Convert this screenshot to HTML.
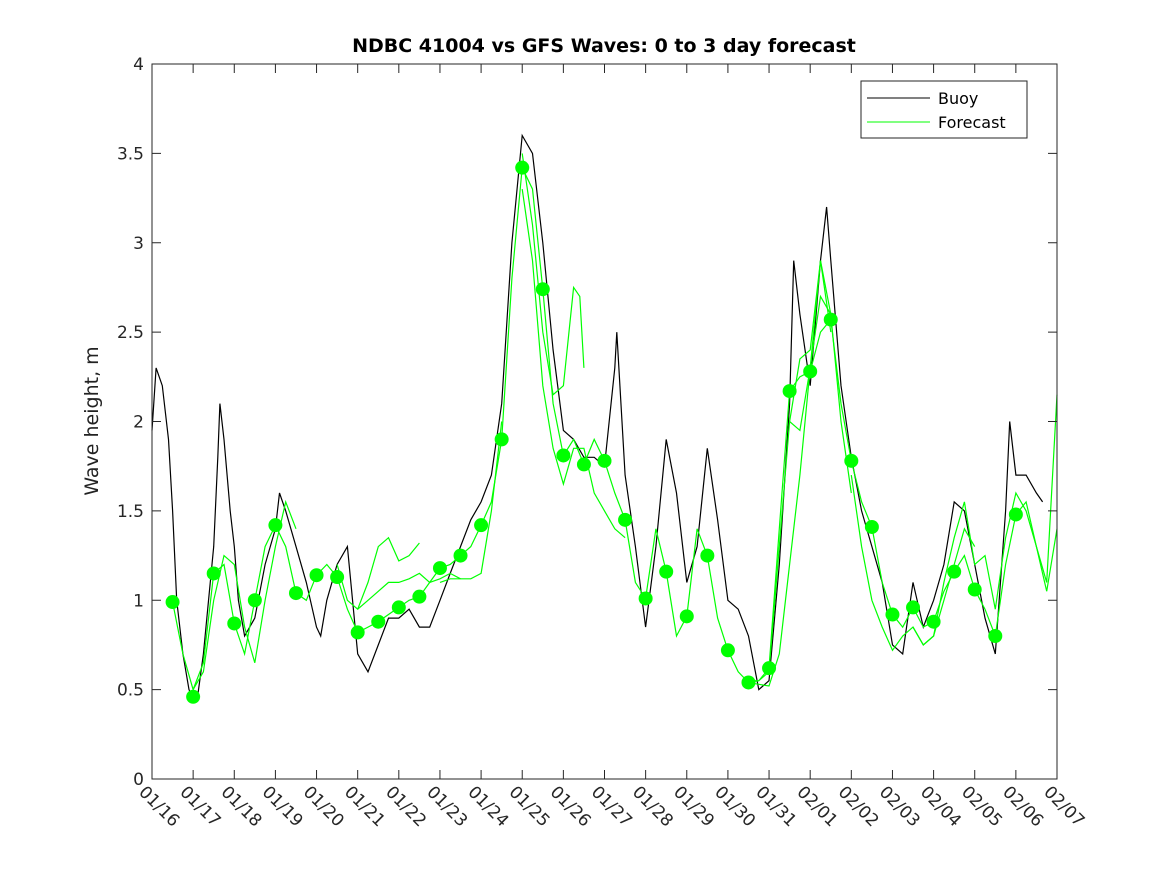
<!DOCTYPE html>
<html><head><meta charset="utf-8"><style>
body{margin:0;background:#fff;}
svg{display:block;font-family:"DejaVu Sans","Liberation Sans",sans-serif;}
</style></head><body>
<svg id="chart" width="1167" height="875" viewBox="0 0 1167 875">
<rect x="0" y="0" width="1167" height="875" fill="#fff"/>
<text x="604" y="52" text-anchor="middle" font-size="19" font-weight="bold" fill="#000">NDBC 41004 vs GFS Waves: 0 to 3 day forecast</text>
<text transform="translate(98,421) rotate(-90)" text-anchor="middle" font-size="19" fill="#222">Wave height, m</text>
<g id="series"></g>
<rect x="152" y="64" width="905" height="715" fill="none" stroke="#262626" stroke-width="1"/>
<g id="axes"></g>
<g>
<rect x="861" y="81" width="166" height="57" fill="#fff" stroke="#262626" stroke-width="1"/>
<line x1="867" y1="98" x2="930" y2="98" stroke="#000" stroke-width="1"/>
<text x="938" y="104" font-size="16" fill="#000">Buoy</text>
<line x1="867" y1="122" x2="930" y2="122" stroke="#00ff00" stroke-width="1"/>
<text x="938" y="128" font-size="16" fill="#000">Forecast</text>
</g>
</svg>
<script>
const xTickLabels=["01/16","01/17","01/18","01/19","01/20","01/21","01/22","01/23","01/24","01/25","01/26","01/27","01/28","01/29","01/30","01/31","02/01","02/02","02/03","02/04","02/05","02/06","02/07"];
const yTicks=[0,0.5,1,1.5,2,2.5,3,3.5,4];
const yTickLabels=["0","0.5","1","1.5","2","2.5","3","3.5","4"];
const buoyDays=[0,0.1,0.25,0.4,0.5,0.6,0.75,0.9,1.0,1.1,1.25,1.5,1.6,1.65,1.75,1.9,2.0,2.1,2.25,2.5,2.75,3.0,3.1,3.25,3.5,3.75,4.0,4.1,4.25,4.5,4.75,5.0,5.25,5.5,5.75,6.0,6.25,6.5,6.75,7.0,7.25,7.5,7.75,8.0,8.25,8.5,8.75,9.0,9.25,9.5,9.75,10.0,10.25,10.5,10.75,11.0,11.25,11.3,11.5,11.75,12.0,12.25,12.5,12.75,13.0,13.25,13.5,13.75,14.0,14.25,14.5,14.75,15.0,15.25,15.5,15.6,15.75,16.0,16.25,16.4,16.5,16.75,17.0,17.25,17.5,17.75,18.0,18.25,18.5,18.75,19.0,19.25,19.5,19.75,20.0,20.25,20.5,20.75,20.85,21.0,21.25,21.5,21.65];
const buoyValues=[1.95,2.3,2.2,1.9,1.5,1.0,0.7,0.5,0.45,0.45,0.7,1.3,1.8,2.1,1.9,1.5,1.3,1.0,0.8,0.9,1.2,1.4,1.6,1.5,1.3,1.1,0.85,0.8,1.0,1.2,1.3,0.7,0.6,0.75,0.9,0.9,0.95,0.85,0.85,1.0,1.15,1.3,1.45,1.55,1.7,2.1,3.0,3.6,3.5,3.0,2.4,1.95,1.9,1.8,1.8,1.75,2.3,2.5,1.7,1.3,0.85,1.3,1.9,1.6,1.1,1.3,1.85,1.45,1.0,0.95,0.8,0.5,0.55,1.2,2.1,2.9,2.6,2.2,2.9,3.2,2.9,2.2,1.8,1.5,1.3,1.1,0.75,0.7,1.1,0.85,1.0,1.2,1.55,1.5,1.2,0.9,0.7,1.5,2.0,1.7,1.7,1.6,1.55];
const dotDays=[0.5,1,1.5,2,2.5,3,3.5,4,4.5,5,5.5,6,6.5,7,7.5,8,8.5,9,9.5,10,10.5,11,11.5,12,12.5,13,13.5,14,14.5,15,15.5,16,16.5,17,17.5,18,18.5,19,19.5,20,20.5,21];
const dotValues=[0.99,0.46,1.15,0.87,1.00,1.42,1.04,1.14,1.13,0.82,0.88,0.96,1.02,1.18,1.25,1.42,1.90,3.42,2.74,1.81,1.76,1.78,1.45,1.01,1.16,0.91,1.25,0.72,0.54,0.62,2.17,2.28,2.57,1.78,1.41,0.92,0.96,0.88,1.16,1.06,0.80,1.48];
const fcMainDays=[0.5,0.75,1,1.25,1.5,1.75,2,2.25,2.5,2.75,3,3.25,3.5,3.75,4,4.25,4.5,4.75,5,5.25,5.5,5.75,6,6.25,6.5,6.75,7,7.25,7.5,7.75,8,8.25,8.5,8.75,9,9.25,9.5,9.75,10,10.25,10.5,10.75,11,11.25,11.5,11.75,12,12.25,12.5,12.75,13,13.25,13.5,13.75,14,14.25,14.5,14.75,15,15.25,15.5,15.75,16,16.25,16.5,16.75,17,17.25,17.5,17.75,18,18.25,18.5,18.75,19,19.25,19.5,19.75,20,20.25,20.5,20.75,21,21.25,21.5,21.75,22];
const fcMainValues=[0.99,0.7,0.5,0.65,1.15,1.2,0.87,0.7,1.0,1.3,1.42,1.3,1.04,1.0,1.14,1.2,1.13,0.95,0.82,0.85,0.88,0.92,0.96,1.0,1.02,1.1,1.18,1.2,1.25,1.3,1.42,1.55,1.9,2.8,3.42,3.3,2.74,2.1,1.81,1.9,1.76,1.9,1.78,1.6,1.45,1.1,1.01,1.4,1.16,0.8,0.91,1.4,1.25,0.9,0.72,0.6,0.54,0.55,0.62,1.4,2.17,2.25,2.28,2.5,2.57,2.1,1.78,1.55,1.41,1.1,0.92,0.85,0.96,0.85,0.88,1.05,1.16,1.25,1.06,0.95,0.8,1.2,1.48,1.55,1.3,1.1,2.15];
const runADays=[5,5.25,5.5,5.75,6,6.25,6.5];
const runAValues=[0.95,1.1,1.3,1.35,1.22,1.25,1.32];
const runBDays=[4.5,4.75,5,5.25,5.5,5.75,6,6.25,6.5,6.75,7,7.25,7.5];
const runBValues=[1.2,1.0,0.95,1.0,1.05,1.1,1.1,1.12,1.15,1.1,1.12,1.15,1.12];
const runCDays=[7,7.25,7.5,7.75,8,8.25,8.5];
const runCValues=[1.1,1.12,1.12,1.12,1.15,1.5,2.0];
const runDDays=[9,9.25,9.5,9.75,10,10.25,10.4,10.5];
const runDValues=[3.5,3.1,2.5,2.15,2.2,2.75,2.7,2.3];
const runEDays=[9,9.25,9.5,9.75,10,10.25,10.5,10.75,11,11.25,11.5];
const runEValues=[3.3,2.9,2.2,1.85,1.65,1.85,1.85,1.6,1.5,1.4,1.35];
const runFDays=[14.5,14.75,15,15.25,15.5,15.75,16,16.25,16.5,16.75,17];
const runFValues=[0.54,0.53,0.52,0.7,1.2,1.7,2.3,2.7,2.6,2.0,1.6];
const runGDays=[14.5,14.75,15,15.25,15.5,15.75,16,16.25,16.5];
const runGValues=[0.55,0.55,0.6,1.3,2.0,1.95,2.3,2.9,2.5];
const runHDays=[15.5,15.75,16,16.25,16.5];
const runHValues=[2.0,2.35,2.4,2.9,2.6];
const runIDays=[18.5,18.75,19,19.25,19.5,19.75,20,20.25,20.5,20.75,21,21.25,21.5,21.75,22];
const runIValues=[0.85,0.75,0.8,1.1,1.35,1.55,1.2,1.25,0.95,1.35,1.6,1.5,1.3,1.05,1.4];
const runJDays=[17,17.25,17.5,17.75,18,18.25,18.5,18.75,19,19.25,19.5,19.75,20];
const runJValues=[1.7,1.3,1.0,0.85,0.72,0.8,0.85,0.75,0.8,1.0,1.2,1.4,1.3];
const runKDays=[1,1.25,1.5,1.75,2,2.25,2.5,2.75,3,3.25,3.5];
const runKValues=[0.5,0.6,1.0,1.25,1.2,0.85,0.65,1.0,1.3,1.55,1.4];

const NS="http://www.w3.org/2000/svg";
const X0=152,X1=1057,Y0=779,Y1=64,DAYS=22,YMAX=4;
function xs(d){return X0+(X1-X0)*d/DAYS;}
function ys(v){return Y0-(Y0-Y1)*v/YMAX;}
function mk(tag,attrs,parent){const e=document.createElementNS(NS,tag);for(const k in attrs)e.setAttribute(k,attrs[k]);parent.appendChild(e);return e;}
const axes=document.getElementById('axes');
const series=document.getElementById('series');
yTicks.forEach((v,i)=>{
  const y=ys(v);
  const t1=mk('line',{x1:X0,y1:y,x2:X0+9,y2:y,stroke:'#262626'},axes);
  
  
  const t2=mk('line',{x1:X1,y1:y,x2:X1-9,y2:y,stroke:'#262626'},axes);
  
  
  const tx=mk('text',{x:X0-8,y:y+6,'text-anchor':'end','font-size':'17',fill:'#262626'},axes);
  tx.textContent=yTickLabels[i];
  
  
});
xTickLabels.forEach((lab,i)=>{
  const x=xs(i);
  const t1=mk('line',{x1:x,y1:Y0,x2:x,y2:Y0-9,stroke:'#262626'},axes);
  
  
  const t2=mk('line',{x1:x,y1:Y1,x2:x,y2:Y1+9,stroke:'#262626'},axes);
  
  
  const tx=mk('text',{transform:`translate(${x-14},${Y0+14}) rotate(45)`,'font-size':'17',fill:'#262626'},axes);
  tx.textContent=lab;
  
  
});
function pts(days,vals){return days.map((d,i)=>xs(d).toFixed(1)+','+ys(vals[i]).toFixed(1)).join(' ');}
const runs=[[fcMainDays,fcMainValues],[runADays,runAValues],[runBDays,runBValues],[runCDays,runCValues],[runDDays,runDValues],[runEDays,runEValues],[runFDays,runFValues],[runGDays,runGValues],[runHDays,runHValues],[runIDays,runIValues],[runJDays,runJValues],[runKDays,runKValues]];
const b=mk('polyline',{points:pts(buoyDays,buoyValues),fill:'none',stroke:'#000','stroke-width':'1.2'},series);


runs.forEach(r=>{
  const p=mk('polyline',{points:pts(r[0],r[1]),fill:'none',stroke:'#00ff00','stroke-width':'1.2'},series);
  
  
});
dotDays.forEach((d,i)=>{
  const c=mk('circle',{cx:xs(d),cy:ys(dotValues[i]),r:7,fill:'#00ff00'},series);
  
  
});
</script>
</body></html>
